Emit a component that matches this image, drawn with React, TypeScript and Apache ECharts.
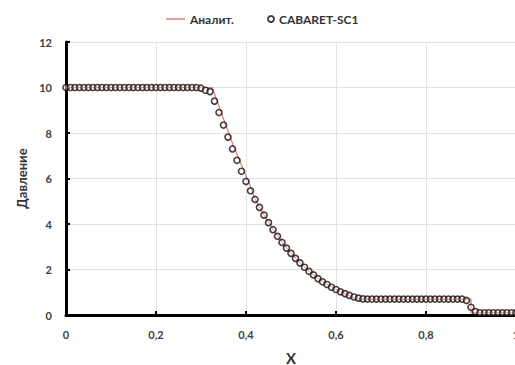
import React, { useEffect, useRef } from "react";
import * as echarts from "echarts";

// Numerical solution (CABARET-SC1): pressure at cells x = i * 0.01, i = 0..100
const numericP = [
  10, 10, 10, 10, 10, 10, 10, 10, 10, 10,
  10, 10, 10, 10, 10, 10, 10, 10, 10, 10,
  10, 10, 10, 10, 10, 10, 10, 10, 10, 10,
  9.97, 9.88, 9.82, 9.4, 8.9, 8.35, 7.82, 7.3, 6.8, 6.32,
  5.87, 5.46, 5.08, 4.73, 4.39, 4.06, 3.75, 3.46, 3.19, 2.94,
  2.71, 2.49, 2.29, 2.1, 1.92, 1.76, 1.6, 1.46, 1.34, 1.22,
  1.12, 1.02, 0.94, 0.86, 0.79, 0.74, 0.71, 0.7, 0.7, 0.7,
  0.7, 0.7, 0.7, 0.7, 0.7, 0.7, 0.7, 0.7, 0.7, 0.7,
  0.7, 0.7, 0.7, 0.7, 0.7, 0.7, 0.7, 0.7, 0.7, 0.64,
  0.34, 0.15, 0.1, 0.1, 0.1, 0.1, 0.1, 0.1, 0.1, 0.1,
  0.1,
];
const cellStep = 0.01;

// Analytic solution
const analyticX = [0, 0.325, 0.335, 0.345, 0.355, 0.365, 0.375, 0.39, 0.405, 0.42, 0.44, 0.46, 0.48, 0.5, 0.52, 0.54, 0.56, 0.58, 0.6, 0.62, 0.64, 0.648, 0.9, 0.9, 1.0];
const analyticP = [10, 10, 9.45, 8.9, 8.35, 7.8, 7.3, 6.58, 5.9, 5.1, 4.4, 3.78, 3.2, 2.72, 2.3, 1.93, 1.61, 1.35, 1.12, 0.93, 0.76, 0.7, 0.7, 0.1, 0.1];

const seriesNames = ["Аналит.", "CABARET-SC1"];
const xAxisName = "X";
const yAxisName = "Давление";

export default function App() {
  const ref = useRef<HTMLDivElement>(null);
  useEffect(() => {
    if (!ref.current) return;
    const chart = echarts.init(ref.current, null, { renderer: "svg" });
    const font = "Lato, 'Open Sans', sans-serif";
    const numData = numericP.map((p, i) => [Number((i * cellStep).toFixed(2)), p]);
    const anaData = analyticX.map((x, i) => [x, analyticP[i]]);
    const lineColor = "#e07b7b";
    const markerBorder = "#1e0e0e";
    const legendText = { fontFamily: font, fontWeight: "bold", fontSize: 12, color: "#333" };
    chart.setOption({
      animation: false,
      backgroundColor: "#ffffff",
      textStyle: { fontFamily: font },
      legend: [
        {
          top: 8,
          left: 161,
          itemWidth: 19,
          itemHeight: 1.5,
          itemGap: 4,
          textStyle: legendText,
          data: [{ name: seriesNames[0], icon: "rect", itemStyle: { color: lineColor } }],
        },
        {
          top: 8,
          left: 262,
          itemWidth: 6,
          itemHeight: 6,
          textStyle: legendText,
          data: [{ name: seriesNames[1], icon: "circle" }],
        },
      ],
      grid: { left: 66, right: -1, top: 42, bottom: 50, outerBoundsMode: "none", containLabel: false },
      xAxis: {
        type: "value",
        min: 0,
        max: 1,
        interval: 0.2,
        name: xAxisName,
        nameLocation: "middle",
        nameGap: 35,
        nameTextStyle: { fontFamily: font, fontWeight: "bold", fontSize: 15, color: "#333" },
        axisLine: { show: true, onZero: false, lineStyle: { color: "#000", width: 3 } },
        axisTick: { show: true, inside: true, length: 4, lineStyle: { color: "#000", width: 2 } },
        axisLabel: {
          margin: 14,
          fontFamily: font,
          fontWeight: "bold",
          fontSize: 11,
          color: "#404040",
          formatter: (v: number) => String(v).replace(".", ","),
        },
        splitLine: { show: true, lineStyle: { color: "#e2e2e2", width: 1 } },
      },
      yAxis: {
        type: "value",
        min: 0,
        max: 12,
        interval: 2,
        name: yAxisName,
        nameLocation: "middle",
        nameGap: 34,
        nameTextStyle: { fontFamily: font, fontWeight: "bold", fontSize: 13, color: "#333" },
        axisLine: { show: true, lineStyle: { color: "#000", width: 3 } },
        axisTick: { show: true, inside: true, length: 4, lineStyle: { color: "#000", width: 2 } },
        axisLabel: { margin: 14, fontFamily: font, fontWeight: "bold", fontSize: 11, color: "#404040" },
        splitLine: { show: true, lineStyle: { color: "#e2e2e2", width: 1 } },
      },
      series: [
        {
          name: seriesNames[0],
          type: "line",
          data: anaData,
          showSymbol: false,
          symbol: "none",
          lineStyle: { color: lineColor, width: 1.2 },
          itemStyle: { color: lineColor },
          z: 2,
        },
        {
          name: seriesNames[1],
          type: "scatter",
          data: numData,
          symbol: "circle",
          symbolSize: 6,
          itemStyle: { color: "rgba(255,255,255,0.5)", borderColor: markerBorder, borderWidth: 1.6 },
          z: 3,
        },
      ],
    });
    return () => chart.dispose();
  }, []);
  return (
    <div
      ref={ref}
      style={{ position: "fixed", left: 0, top: 0, width: 515, height: 365 }}
    />
  );
}
